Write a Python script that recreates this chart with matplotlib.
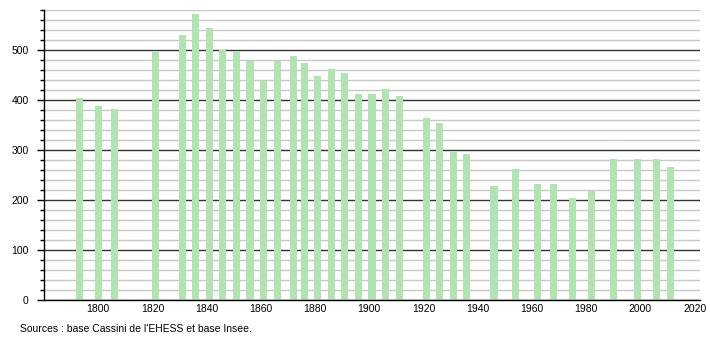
import matplotlib
matplotlib.use("Agg")
import matplotlib.pyplot as plt
from matplotlib.ticker import MultipleLocator

plt.rcParams['font.family'] = ['Liberation Sans', 'DejaVu Sans']

years = [1793, 1800, 1806, 1821, 1831, 1836, 1841, 1846, 1851, 1856, 1861, 1866,
         1872, 1876, 1881, 1886, 1891, 1896, 1901, 1906, 1911, 1921, 1926, 1931,
         1936, 1946, 1954, 1962, 1968, 1975, 1982, 1990, 1999, 2006, 2011]
population = [404, 388, 382, 496, 530, 572, 544, 500, 498, 479, 439, 479,
              488, 474, 448, 462, 454, 412, 412, 422, 408, 364, 354, 296,
              292, 228, 262, 232, 232, 204, 219, 282, 282, 282, 266]
x_ticks = [1800, 1820, 1840, 1860, 1880, 1900, 1920, 1940, 1960, 1980, 2000, 2020]
y_ticks = [0, 100, 200, 300, 400, 500]
source = "Sources : base Cassini de l'EHESS et base Insee."

fig = plt.figure(figsize=(7.1, 3.4), dpi=100)
ax = fig.add_axes([44/710, 40/340, (700-44)/710, 290/340])

ax.set_xlim(1780, 2022)
ax.set_ylim(0, 580)

ax.yaxis.set_minor_locator(MultipleLocator(20))
ax.set_yticks(y_ticks)
ax.set_xticks(x_ticks)
ax.grid(which='minor', axis='y', color='#c8c8c8', linewidth=1.0, zorder=0)
ax.grid(which='major', axis='y', color='#333333', linewidth=1.0, zorder=0)

ax.bar(years, population, width=2.6, color='#b3e3b3', zorder=2)

for s in ['top', 'right']:
    ax.spines[s].set_visible(False)
ax.spines['left'].set_color('black')
ax.spines['bottom'].set_color('black')
ax.spines['left'].set_linewidth(1.0)
ax.spines['bottom'].set_linewidth(1.0)

ax.tick_params(axis='y', which='major', length=5, width=1, labelsize=7.5, pad=6)
ax.tick_params(axis='y', which='minor', length=3, width=1)
ax.tick_params(axis='x', which='major', length=0, labelsize=7.5, pad=3)

fig.text(20/710, 1 - 329/340, source, fontsize=7.5, va='center', ha='left')

fig.savefig('out.png', dpi=100)
